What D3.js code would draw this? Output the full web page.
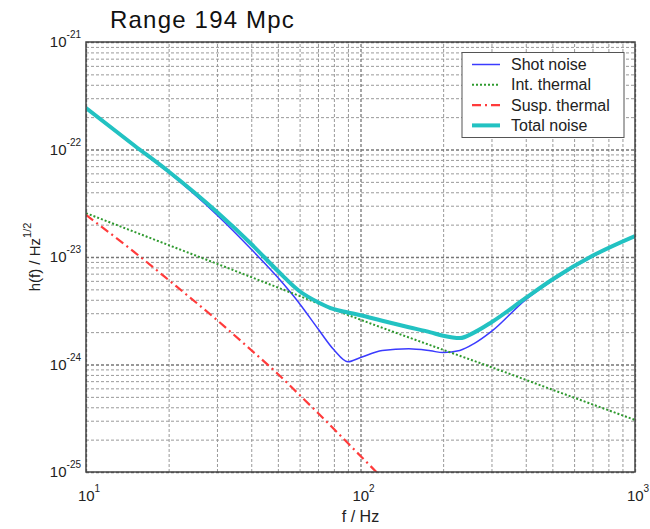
<!DOCTYPE html>
<html>
<head>
<meta charset="utf-8">
<script src="https://cdn.jsdelivr.net/npm/d3@7"></script>
<style>
  html, body { margin: 0; padding: 0; background: #fff; }
  svg { display: block; font-family: "Liberation Sans", Arial, sans-serif; }
</style>
</head>
<body>
<svg id="chart" width="650" height="529"></svg>
<script>
// ---- data ----
const freq = [10, 15, 20, 30, 40, 50, 60, 70, 80, 90, 100, 120, 150, 180, 200, 230, 260, 300, 400, 500, 700, 1000];
const shotNoise = [2.43e-22, 1.08e-22, 6.11e-23, 2.46e-23, 1.18e-23, 6.43e-24, 3.68e-24, 2.15e-24, 1.37e-24, 1.06e-24, 1.16e-24, 1.35e-24, 1.40e-24, 1.34e-24, 1.29e-24, 1.35e-24, 1.57e-24, 2.03e-24, 4.02e-24, 6.04e-24, 1.008e-23, 1.542e-23];
const totalNoise = [2.43e-22, 1.09e-22, 6.24e-23, 2.62e-23, 1.32e-23, 7.41e-24, 4.80e-24, 3.80e-24, 3.27e-24, 3.05e-24, 2.87e-24, 2.55e-24, 2.22e-24, 1.99e-24, 1.85e-24, 1.76e-24, 1.99e-24, 2.47e-24, 4.16e-24, 6.18e-24, 1.026e-23, 1.567e-23];
const intFreq = [10, 20, 30, 50, 100, 200, 300, 500, 1000];
const intThermal = [2.56e-23, 1.29e-23, 8.65e-24, 5.20e-24, 2.61e-24, 1.37e-24, 9.44e-25, 5.83e-25, 3.05e-25];
const suspFreq = [10, 15, 20, 30, 40, 50, 60, 70, 80, 100, 120];
const suspThermal = [2.46e-23, 1.11e-23, 6.11e-24, 2.59e-24, 1.36e-24, 8.17e-25, 5.20e-25, 3.54e-25, 2.51e-25, 1.41e-25, 8.8e-26];

const xTicks = [10, 100, 1000];
const xTickExp = ["1", "2", "3"];
const yTicks = [1e-21, 1e-22, 1e-23, 1e-24, 1e-25];
const yTickExp = ["-21", "-22", "-23", "-24", "-25"];
const seriesNames = ["Shot noise", "Int. thermal", "Susp. thermal", "Total noise"];
const titleText = "Range 194 Mpc";

// ---- layout ----
const L = 86, R = 635, T = 42, B = 472;
const svg = d3.select("#chart");
const x = d3.scaleLog().domain([10, 1000]).range([L, R]);
const y = d3.scaleLog().domain([1e-25, 1e-21]).range([B, T]);

// minor / major grid values
const minorX = [], minorY = [];
[10, 100].forEach(d => { for (let k = 2; k <= 9; k++) minorX.push(d * k); });
[1e-25, 1e-24, 1e-23, 1e-22].forEach(d => { for (let k = 2; k <= 9; k++) minorY.push(d * k); });

const grid = svg.append("g");
// minor grid
grid.append("g").attr("transform", `translate(0,${B})`)
  .call(d3.axisBottom(x).tickValues(minorX).tickSize(-(B - T)).tickFormat(""))
  .call(g => g.select(".domain").remove())
  .call(g => g.selectAll("line").attr("stroke", "#9a9a9a").attr("stroke-dasharray", "3,2").attr("stroke-width", 1));
grid.append("g").attr("transform", `translate(${L},0)`)
  .call(d3.axisLeft(y).tickValues(minorY).tickSize(-(R - L)).tickFormat(""))
  .call(g => g.select(".domain").remove())
  .call(g => g.selectAll("line").attr("stroke", "#9a9a9a").attr("stroke-dasharray", "3,2").attr("stroke-width", 1));
// major grid
grid.append("g").attr("transform", `translate(0,${B})`)
  .call(d3.axisBottom(x).tickValues(xTicks).tickSize(-(B - T)).tickFormat(""))
  .call(g => g.select(".domain").remove())
  .call(g => g.selectAll("line").attr("stroke", "#777").attr("stroke-dasharray", "3,2").attr("stroke-width", 1.3));
grid.append("g").attr("transform", `translate(${L},0)`)
  .call(d3.axisLeft(y).tickValues(yTicks).tickSize(-(R - L)).tickFormat(""))
  .call(g => g.select(".domain").remove())
  .call(g => g.selectAll("line").attr("stroke", "#777").attr("stroke-dasharray", "3,2").attr("stroke-width", 1.3));

// clip
svg.append("defs").append("clipPath").attr("id", "clip")
  .append("rect").attr("x", L).attr("y", T).attr("width", R - L).attr("height", B - T);

const line = d3.line().curve(d3.curveMonotoneX);
const plot = svg.append("g").attr("clip-path", "url(#clip)");

const styles = [
  { color: "#3b3bff", width: 1.5, dash: null },
  { color: "#2f9a2f", width: 2, dash: "2,2" },
  { color: "#ff3b3b", width: 2.2, dash: "9,4,2,4" },
  { color: "#22c2c2", width: 4, dash: null }
];
const seriesData = [
  freq.map((f, i) => [x(f), y(shotNoise[i])]),
  intFreq.map((f, i) => [x(f), y(intThermal[i])]),
  suspFreq.map((f, i) => [x(f), y(suspThermal[i])]),
  freq.map((f, i) => [x(f), y(totalNoise[i])])
];
seriesData.forEach((pts, i) => {
  const s = styles[i];
  plot.append("path").attr("d", line(pts)).attr("fill", "none")
    .attr("stroke", s.color).attr("stroke-width", s.width)
    .attr("stroke-dasharray", s.dash).attr("stroke-linejoin", "round");
});

// frame
svg.append("rect").attr("x", L).attr("y", T).attr("width", R - L).attr("height", B - T)
  .attr("fill", "none").attr("stroke", "#444").attr("stroke-width", 1.5);

// tick labels
const fontColor = "#222";
yTicks.forEach((v, i) => {
  const t = svg.append("text").attr("x", L - 5).attr("y", y(v) + 5)
    .attr("text-anchor", "end").attr("font-size", 15).attr("fill", fontColor);
  t.append("tspan").text("10");
  t.append("tspan").attr("dy", -9).attr("font-size", 10).text(yTickExp[i]);
});
xTicks.forEach((v, i) => {
  const t = svg.append("text").attr("x", x(v) + 3).attr("y", B + 29)
    .attr("text-anchor", "middle").attr("font-size", 15).attr("fill", fontColor);
  t.append("tspan").text("10");
  t.append("tspan").attr("dy", -9).attr("font-size", 10).text(xTickExp[i]);
});

// axis labels
svg.append("text").attr("x", (L + R) / 2).attr("y", B + 50).attr("text-anchor", "middle")
  .attr("font-size", 16).attr("fill", fontColor).text("f / Hz");
const yl = svg.append("text").attr("transform", `translate(40,${(T + B) / 2}) rotate(-90)`)
  .attr("text-anchor", "middle").attr("font-size", 15).attr("fill", fontColor);
yl.append("tspan").text("h(f) / Hz");
yl.append("tspan").attr("dy", -9).attr("font-size", 11).text("1/2");

// title
svg.append("text").attr("x", 110).attr("y", 28).attr("font-size", 24)
  .attr("letter-spacing", 1.2).attr("fill", "#111").text(titleText);

// legend
const lg = svg.append("g");
lg.append("rect").attr("x", 462).attr("y", 52.5).attr("width", 162).attr("height", 85)
  .attr("fill", "#fff").attr("stroke", "#555").attr("stroke-width", 1);
seriesNames.forEach((name, i) => {
  const yy = 64.5 + i * 20.3;
  const s = styles[i];
  lg.append("line").attr("x1", 472).attr("x2", 500).attr("y1", yy).attr("y2", yy)
    .attr("stroke", s.color).attr("stroke-width", s.width).attr("stroke-dasharray", s.dash);
  lg.append("text").attr("x", 511).attr("y", yy + 5.5).attr("font-size", 16)
    .attr("fill", fontColor).text(name);
});
</script>
</body>
</html>
